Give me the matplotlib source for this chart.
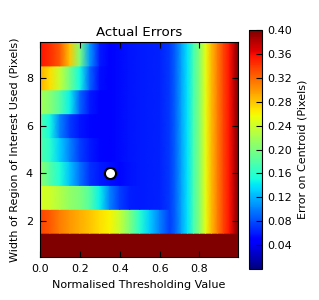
import numpy as np
import matplotlib
matplotlib.use("Agg")
import matplotlib.pyplot as plt

# Thresholding values (x grid)
thresholds = [0.0, 0.05, 0.10, 0.15, 0.20, 0.25, 0.30, 0.35, 0.40, 0.45, 0.50, 0.55,
              0.60, 0.65, 0.68, 0.71, 0.74, 0.77, 0.80, 0.83, 0.86, 0.89, 0.92, 0.95,
              0.98, 0.995]
widths = [1, 2, 3, 4, 5, 6, 7, 8, 9]

tail = [0.09, 0.115, 0.14, 0.175, 0.205, 0.25, 0.285, 0.31, 0.335, 0.355, 0.385, 0.41]

err_w1 = [0.45] * 26
err_w2 = [0.335, 0.325, 0.31, 0.30, 0.29, 0.28, 0.27, 0.26, 0.235, 0.20, 0.16, 0.13,
          0.10, 0.074] + tail
err_w3 = [0.245, 0.24, 0.225, 0.21, 0.20, 0.18, 0.145, 0.10, 0.075, 0.062, 0.06, 0.061,
          0.063, 0.072] + tail
err_w4 = [0.21, 0.18, 0.155, 0.125, 0.095, 0.07, 0.06, 0.055, 0.053, 0.057, 0.06, 0.061,
          0.063, 0.072] + tail
err_w5 = [0.18, 0.16, 0.13, 0.10, 0.075, 0.06, 0.052, 0.05, 0.054, 0.058, 0.06, 0.061,
          0.063, 0.072] + tail
err_w6 = [0.18, 0.15, 0.10, 0.072, 0.058, 0.052, 0.05, 0.05, 0.054, 0.058, 0.06, 0.061,
          0.063, 0.072] + tail
err_w7 = [0.22, 0.205, 0.18, 0.145, 0.09, 0.06, 0.05, 0.05, 0.054, 0.058, 0.06, 0.061,
          0.063, 0.072] + tail
err_w8 = [0.29, 0.27, 0.235, 0.195, 0.15, 0.09, 0.055, 0.05, 0.054, 0.058, 0.06, 0.061,
          0.063, 0.072] + tail
err_w9 = [0.355, 0.345, 0.325, 0.28, 0.20, 0.11, 0.06, 0.05, 0.054, 0.058, 0.06, 0.061,
          0.063, 0.072] + tail

best_threshold = [0.35]
best_width = [4]

cbar_ticks = [0.04, 0.08, 0.12, 0.16, 0.20, 0.24, 0.28, 0.32, 0.36, 0.40]

rows = [err_w1, err_w2, err_w3, err_w4, err_w5, err_w6, err_w7, err_w8, err_w9]

plt.rcParams['font.family'] = ['DejaVu Sans']
fig = plt.figure(figsize=(3.19, 3.0), dpi=100)
ax = fig.add_axes([0.125, 0.143, 0.621, 0.717])
cax = fig.add_axes([0.781, 0.103, 0.041, 0.797])

x = np.array(thresholds)
ys = []
Z = []
for w, r in zip(widths, rows):
    ys += [w - 0.5, w + 0.5]
    Z += [r, r]
X, Y = np.meshgrid(x, np.array(ys))
Z = np.array(Z)
mesh = ax.pcolormesh(X, Y, Z, shading='gouraud', cmap='jet', vmin=0.0, vmax=0.40,
                     rasterized=True)
ax.plot(best_threshold, best_width, 'o', mfc='white', mec='black', ms=8, mew=1.5)

ax.set_xlim(0, 0.993)
ax.set_ylim(0.5, 9.5)
ax.set_xticks([0.0, 0.2, 0.4, 0.6, 0.8])
ax.set_yticks([2, 4, 6, 8])
ax.tick_params(direction='in', top=True, right=True, labelsize=8, length=4, pad=5)
ax.set_title('Actual Errors', fontsize=9.6, pad=4)
ax.set_xlabel('Normalised Thresholding Value', fontsize=8)
ax.set_ylabel('Width of Region of Interest Used (Pixels)', fontsize=8)

cb = fig.colorbar(mesh, cax=cax, ticks=cbar_ticks)
cb.ax.set_yticklabels(['%.2f' % t for t in cbar_ticks])
cb.ax.tick_params(direction='in', labelsize=8, length=4)
cb.set_label('Error on Centroid (Pixels)', fontsize=8)

fig.savefig('out.png', dpi=100)
